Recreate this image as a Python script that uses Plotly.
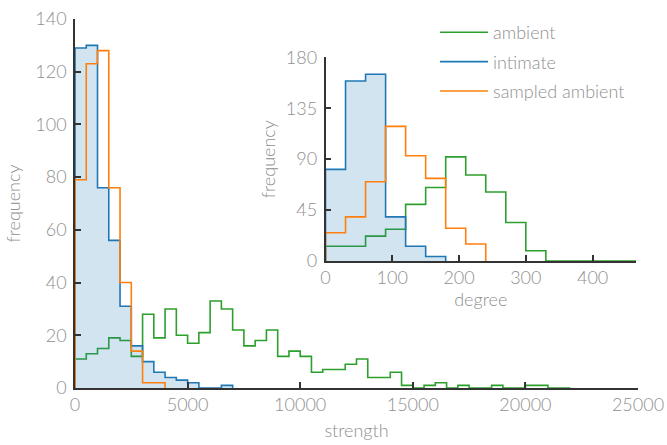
import plotly.graph_objects as go

# ---------------- data ----------------
strength_bin_width = 500
ambient_strength = [11, 13, 15, 19, 18, 12, 28, 19, 30, 20, 17, 21, 33, 30, 22, 16, 18, 22, 12, 14,
                    12, 6, 7, 7, 9, 11, 4, 4, 6, 1, 0, 1, 2, 0, 1, 0, 0, 1, 0, 0, 1, 1, 0, 0]
intimate_strength = [129, 130, 76, 56, 31, 16, 10, 6, 4, 3, 2, 0, 0, 1]
sampled_strength = [79, 123, 128, 76, 40, 14, 2, 2]

degree_bin_width = 30
ambient_degree = [13, 13, 22, 28, 50, 65, 92, 76, 61, 34, 9, 0, 0, 0, 0, 0]
intimate_degree = [81, 159, 165, 39, 13, 4]
sampled_degree = [25, 39, 70, 119, 93, 73, 29, 15]

series_names = ["ambient", "intimate", "sampled ambient"]
colors = {"ambient": "#2ca02c", "intimate": "#1f77b4", "sampled ambient": "#ff7f0e"}
fill_color = "rgba(31,119,180,0.2)"

main_xticks = [0, 5000, 10000, 15000, 20000, 25000]
main_yticks = [0, 20, 40, 60, 80, 100, 120, 140]
inset_xticks = [0, 100, 200, 300, 400]
inset_yticks = [0, 45, 90, 135, 180]


def step_xy(counts, width):
    edges = [i * width for i in range(len(counts) + 1)]
    x = [edges[0]] + edges
    y = [0] + list(counts) + [0]
    return x, y


FONT = "Lato, sans-serif"
TXT = "#8f8f8f"
AX = "#333333"
FS = 18

fig = go.Figure()

main = {"ambient": ambient_strength, "intimate": intimate_strength, "sampled ambient": sampled_strength}
inset = {"ambient": ambient_degree, "intimate": intimate_degree, "sampled ambient": sampled_degree}

for name in series_names:
    x, y = step_xy(main[name], strength_bin_width)
    if name == "intimate":
        fig.add_trace(go.Scatter(x=x, y=y, mode="lines", line=dict(width=0, shape="hv"),
                                 fill="tozeroy", fillcolor=fill_color, showlegend=False,
                                 hoverinfo="skip", xaxis="x", yaxis="y"))
    fig.add_trace(go.Scatter(x=x, y=y, mode="lines", name=name,
                             line=dict(color=colors[name], width=1.6, shape="hv"),
                             legendgroup=name, xaxis="x", yaxis="y"))

for name in series_names:
    x, y = step_xy(inset[name], degree_bin_width)
    if name == "intimate":
        fig.add_trace(go.Scatter(x=x, y=y, mode="lines", line=dict(width=0, shape="hv"),
                                 fill="tozeroy", fillcolor=fill_color, showlegend=False,
                                 hoverinfo="skip", xaxis="x2", yaxis="y2"))
    fig.add_trace(go.Scatter(x=x, y=y, mode="lines", name=name, showlegend=False,
                             line=dict(color=colors[name], width=1.6, shape="hv"),
                             legendgroup=name, xaxis="x2", yaxis="y2"))

tfont = dict(family=FONT, size=FS, color=TXT, weight=300)
axis_common = dict(showline=True, linecolor=AX, linewidth=1.5, ticks="inside", ticklen=6,
                   tickwidth=1.5, tickcolor=AX, showgrid=False, zeroline=False, mirror=False,
                   automargin=False, tickfont=tfont, ticklabeloverflow="allow")

W, H = 667, 445
L, R, T, B = 75, 29, 19, 57
pw, ph = W - L - R, H - T - B


def px_x(p):
    return (p - L) / pw


def px_y(p):
    return (H - B - p) / ph


fig.update_layout(
    width=W, height=H,
    margin=dict(l=L, r=R, t=T, b=B, autoexpand=False),
    paper_bgcolor="white", plot_bgcolor="white",
    font=tfont,
    xaxis=dict(range=[0, 25000], tickvals=main_xticks, tickformat="d",
               title=dict(text="strength", font=tfont, standoff=10),
               **axis_common),
    yaxis=dict(range=[0, 140], tickvals=main_yticks,
               title=dict(text="frequency", font=tfont, standoff=10),
               ticklabelstandoff=3,
               **axis_common),
    xaxis2=dict(domain=[px_x(325.5), px_x(636)], anchor="y2", range=[0, 465], tickvals=inset_xticks,
                title=dict(text="degree", font=tfont, standoff=0),
                **axis_common),
    yaxis2=dict(domain=[px_y(261), px_y(57.3)], anchor="x2", range=[0, 180], tickvals=inset_yticks,
                title=dict(text="frequency", font=tfont, standoff=6),
                ticklabelstandoff=3,
                **axis_common),
    legend=dict(x=px_x(435), y=px_y(14), xanchor="left", yanchor="top",
                font=tfont,
                bgcolor="rgba(0,0,0,0)", traceorder="grouped", tracegroupgap=3,
                itemwidth=48),
    showlegend=True,
)

fig.write_html("out.html",
               config={"displayModeBar": False},
               post_script="document.body.style.margin='0';document.body.style.overflow='hidden';")
